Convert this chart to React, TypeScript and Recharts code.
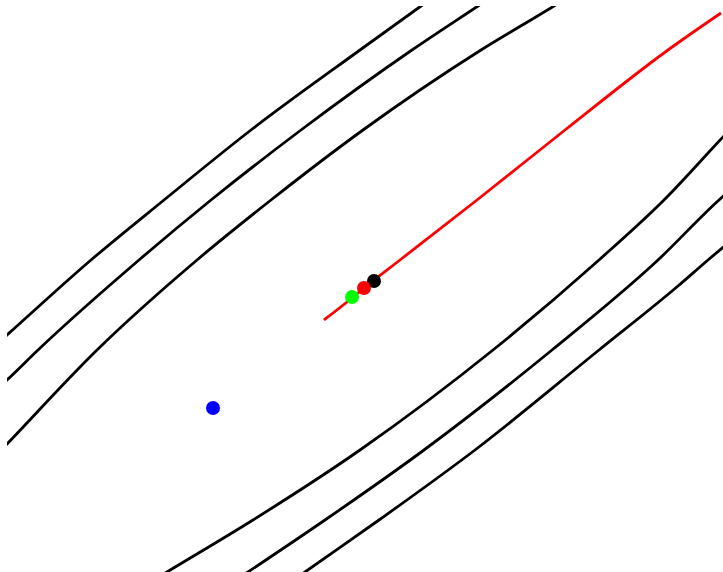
import React from "react";
import { ComposedChart, Line, Scatter, XAxis, YAxis } from "recharts";

// Contour levels (x, y in plot units; y grows downward)
const contourA = [
  { x: -21, y: 360 }, { x: 7, y: 335 }, { x: 91, y: 260 }, { x: 164, y: 200 },
  { x: 251, y: 130 }, { x: 360, y: 50 }, { x: 421, y: 6 }, { x: 449, y: -14 },
];
const contourB = [
  { x: -21, y: 405 }, { x: 7, y: 380 }, { x: 38, y: 350 }, { x: 139, y: 260 },
  { x: 211, y: 200 }, { x: 301, y: 130 }, { x: 412, y: 50 }, { x: 478, y: 6 }, { x: 508, y: -14 },
];
const contourC = [
  { x: -18, y: 470 }, { x: 7, y: 444 }, { x: 97, y: 350 }, { x: 197, y: 260 },
  { x: 271, y: 200 }, { x: 363, y: 130 }, { x: 481, y: 50 }, { x: 554, y: 6 }, { x: 586, y: -14 },
];
const contourD = [
  { x: 134, y: 592 }, { x: 167, y: 572 }, { x: 253, y: 520 }, { x: 360, y: 450 },
  { x: 493, y: 350 }, { x: 599, y: 260 }, { x: 664, y: 200 }, { x: 723, y: 137 }, { x: 744, y: 115 },
];
const contourE = [
  { x: 218, y: 592 }, { x: 248, y: 572 }, { x: 325, y: 520 }, { x: 424, y: 450 },
  { x: 552, y: 350 }, { x: 658, y: 260 }, { x: 719, y: 200 }, { x: 742, y: 180 },
];
const contourF = [
  { x: 277, y: 592 }, { x: 305, y: 572 }, { x: 379, y: 520 }, { x: 475, y: 450 },
  { x: 599, y: 350 }, { x: 678, y: 286 }, { x: 708, y: 260 }, { x: 745, y: 229 },
];
const contours = [contourA, contourB, contourC, contourD, contourE, contourF];

// Optimisation path
const path = [
  { x: 324, y: 320 }, { x: 352, y: 298 }, { x: 364, y: 288 }, { x: 400, y: 260 },
  { x: 477, y: 200 }, { x: 565, y: 130 }, { x: 668, y: 50 }, { x: 721, y: 13 },
];

// Marked points
const startPoint = [{ x: 213, y: 408 }];
const greenPoint = [{ x: 352, y: 297 }];
const redPoint = [{ x: 364, y: 288 }];
const blackPoint = [{ x: 374, y: 281 }];

const dot = (color: string) => (props: any) => (
  <circle cx={props.cx} cy={props.cy} r={7} fill={color} />
);

export default function App() {
  return (
    <div style={{ position: "absolute", left: 0, top: 0, background: "#fff" }}>
      <ComposedChart
        width={723}
        height={572}
        margin={{ top: 6, right: 0, bottom: 0, left: 7 }}
      >
        <XAxis type="number" dataKey="x" domain={[7, 723]} allowDataOverflow hide />
        <YAxis type="number" dataKey="y" domain={[6, 572]} reversed allowDataOverflow hide />
        {contours.map((c, i) => (
          <Line
            key={i}
            data={c}
            dataKey="y"
            type="monotone"
            stroke="#000"
            strokeWidth={2.8}
            dot={false}
            activeDot={false}
            isAnimationActive={false}
          />
        ))}
        <Scatter data={blackPoint} fill="#000" shape={dot("#000")} isAnimationActive={false} />
        <Line
          data={path}
          dataKey="y"
          type="monotone"
          stroke="#ff0000"
          strokeWidth={2.8}
          dot={false}
          activeDot={false}
          isAnimationActive={false}
        />
        <Scatter data={greenPoint} fill="#00ff00" shape={dot("#00ff00")} isAnimationActive={false} />
        <Scatter data={redPoint} fill="#ff0000" shape={dot("#ff0000")} isAnimationActive={false} />
        <Scatter data={startPoint} fill="#0000ff" shape={dot("#0000ff")} isAnimationActive={false} />
      </ComposedChart>
    </div>
  );
}
